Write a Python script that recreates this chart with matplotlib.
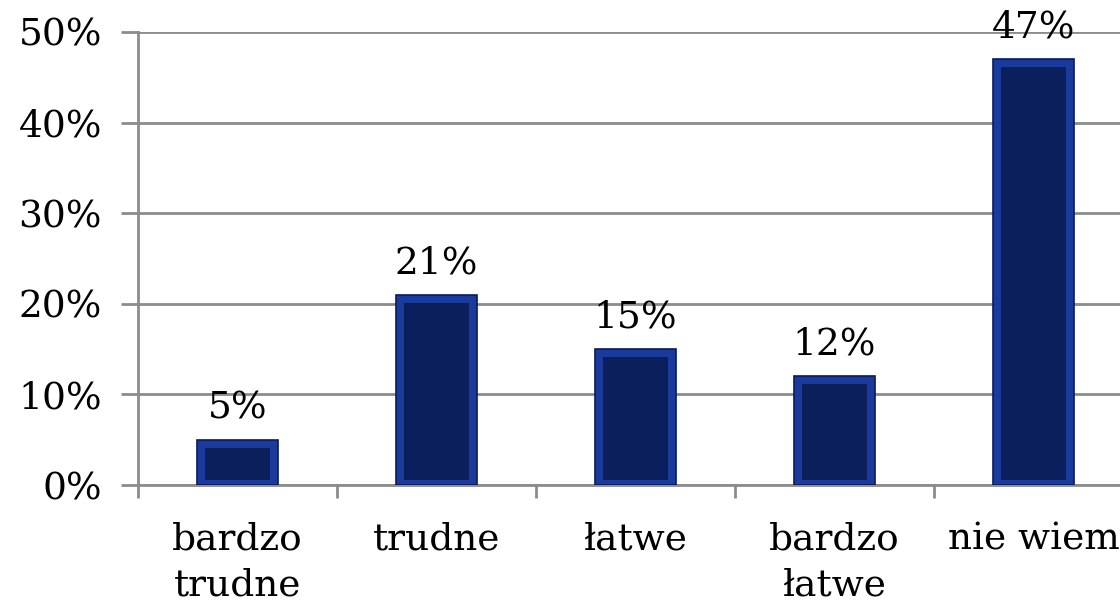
import matplotlib.pyplot as plt
import numpy as np

# Dane
kategorie = ['bardzo\ntrudne', 'trudne', 'łatwe', 'bardzo\nłatwe', 'nie wiem']
procenty = [5, 21, 15, 12, 47]
etykiety = ['5%', '21%', '15%', '12%', '47%']
y_ticks = [0, 10, 20, 30, 40, 50]

plt.rcParams['font.family'] = ['DejaVu Serif']

fig = plt.figure(figsize=(11.2, 6.06), dpi=100)
ax = fig.add_axes([138 / 1120, 121 / 606, 995 / 1120, 453 / 606])

x = np.arange(len(kategorie))
szer = 0.41
p = np.array(procenty)

# zewnętrzna część słupka (obramowanie "bevel")
ax.bar(x, p, width=szer, color='#1a3a9c', edgecolor='#0a1a5e', linewidth=1.2, zorder=3)
# wewnętrzna, ciemniejsza część
ax.bar(x, p - 1.5, bottom=0.6, width=szer - 0.08, color='#0b1f5c', linewidth=0, zorder=4)

for xi, v, lab in zip(x, procenty, etykiety):
    ax.text(xi, v + 1.5, lab, ha='center', va='bottom', fontsize=27, color='black')

ax.set_xlim(-0.5, len(kategorie) - 0.5)
ax.set_ylim(0, 50)
ax.set_yticks(y_ticks)
ax.set_yticklabels([f'{t}%' for t in y_ticks], fontsize=27)
ax.yaxis.grid(True, color='#8c8c8c', linewidth=2, zorder=0)
ax.set_axisbelow(True)

ax.set_xticks(x)
ax.set_xticklabels(kategorie, fontsize=27, linespacing=1.38)
ax.tick_params(axis='x', length=0, pad=26)
ax.set_xticks(np.arange(len(kategorie) + 1) - 0.5, minor=True)
ax.tick_params(axis='x', which='minor', length=9, width=2, color='#8c8c8c')
ax.tick_params(axis='y', length=12, width=2, color='#8c8c8c', pad=14)

for s in ['top', 'right']:
    ax.spines[s].set_visible(False)
ax.spines['left'].set_color('#8c8c8c')
ax.spines['left'].set_linewidth(2)
ax.spines['bottom'].set_color('#8c8c8c')
ax.spines['bottom'].set_linewidth(2)

fig.savefig('out.png', dpi=100)
